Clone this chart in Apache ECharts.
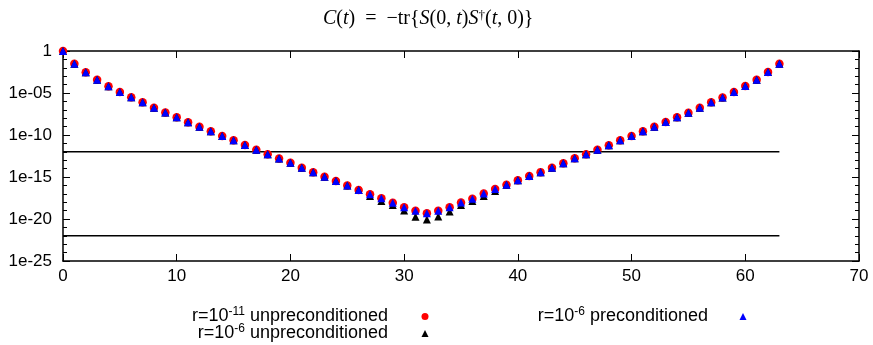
<!DOCTYPE html>
<html><head><meta charset="utf-8">
<script src="https://cdn.jsdelivr.net/npm/echarts@6/dist/echarts.min.js"></script>
<style>html,body{margin:0;padding:0;background:#fff}#c{width:873px;height:345px}</style>
</head><body><div id="c"></div>
<script>
// time slices
const tValues = [0,1,2,3,4,5,6,7,8,9,10,11,12,13,14,15,16,17,18,19,20,21,22,23,24,25,26,27,28,29,30,31,
  32,33,34,35,36,37,38,39,40,41,42,43,44,45,46,47,48,49,50,51,52,53,54,55,56,57,58,59,60,61,62,63];
// r=10^-11 unpreconditioned (red circles)
const cUnprec11 = [1,3.0e-2,3.0e-3,3.7e-4,6.3e-5,1.3e-5,3.2e-6,7.9e-7,1.8e-7,4.7e-8,1.26e-8,3.3e-9,9.3e-10,2.75e-10,7.4e-11,2.4e-11,
  6.3e-12,1.7e-12,5.0e-13,1.6e-13,5.0e-14,1.3e-14,3.6e-15,1.1e-15,3.3e-16,1.0e-16,2.8e-17,8.7e-18,2.9e-18,8.7e-19,2.45e-19,9.8e-20,
  4.7e-20,9.8e-20,2.45e-19,9.5e-19,2.6e-18,1.05e-17,3.7e-17,1.2e-16,4.0e-16,1.3e-15,3.8e-15,1.3e-14,4.3e-14,1.7e-13,5.0e-13,1.8e-12,
  5.9e-12,2.3e-11,7.6e-11,2.75e-10,9.8e-10,3.5e-9,1.26e-8,4.6e-8,1.8e-7,7.8e-7,3.0e-6,1.3e-5,6.8e-5,3.9e-4,3.2e-3,3.1e-2];
// r=10^-6 unpreconditioned (black triangles)
const cUnprec6 = [1,3.0e-2,3.0e-3,3.7e-4,6.3e-5,1.3e-5,3.2e-6,7.9e-7,1.8e-7,4.7e-8,1.26e-8,3.3e-9,9.3e-10,2.75e-10,7.4e-11,2.4e-11,
  6.3e-12,1.7e-12,5.0e-13,1.6e-13,5.0e-14,1.3e-14,3.6e-15,1.1e-15,3.3e-16,1.0e-16,2.8e-17,5.6e-18,1.4e-18,4.5e-19,1.0e-19,1.8e-20,
  8.9e-21,2.0e-20,7.9e-20,4.5e-19,1.4e-18,5.6e-18,2.2e-17,1.2e-16,4.0e-16,1.3e-15,3.8e-15,1.3e-14,4.3e-14,1.7e-13,5.0e-13,1.8e-12,
  5.9e-12,2.3e-11,7.6e-11,2.75e-10,9.8e-10,3.5e-9,1.26e-8,4.6e-8,1.8e-7,7.8e-7,3.0e-6,1.3e-5,6.8e-5,3.9e-4,3.2e-3,3.1e-2];
// r=10^-6 preconditioned (blue triangles)
const cPrec6 = [1,3.0e-2,3.0e-3,3.7e-4,6.3e-5,1.3e-5,3.2e-6,7.9e-7,1.8e-7,4.7e-8,1.26e-8,3.3e-9,9.3e-10,2.75e-10,7.4e-11,2.4e-11,
  6.3e-12,1.7e-12,5.0e-13,1.6e-13,5.0e-14,1.3e-14,3.6e-15,1.1e-15,3.3e-16,1.0e-16,2.8e-17,8.7e-18,2.9e-18,8.7e-19,2.45e-19,9.8e-20,
  4.7e-20,9.8e-20,2.45e-19,9.5e-19,2.6e-18,1.05e-17,3.7e-17,1.2e-16,4.0e-16,1.3e-15,3.8e-15,1.3e-14,4.3e-14,1.7e-13,5.0e-13,1.8e-12,
  5.9e-12,2.3e-11,7.6e-11,2.75e-10,9.8e-10,3.5e-9,1.26e-8,4.6e-8,1.8e-7,7.8e-7,3.0e-6,1.3e-5,6.8e-5,3.9e-4,3.2e-3,3.1e-2];
// horizontal reference levels and their t-span
const refLevels = [1e-12, 1e-22];
const refSpan = [0, 63];
// tick labels
const xTickLabels = ['0','10','20','30','40','50','60','70'];
const yTickLabels = ['1','1e-05','1e-10','1e-15','1e-20','1e-25'];
const seriesNames = ['r=10^-11 unpreconditioned','r=10^-6 unpreconditioned','r=10^-6 preconditioned'];
const legendRich = ['r=10{sup|-11} unpreconditioned','r=10{sup|-6} unpreconditioned','r=10{sup|-6} preconditioned'];

const SANS = 'Liberation Sans';
const SERIF = 'Liberation Serif';
const chart = echarts.init(document.getElementById('c'), null, {renderer:'canvas'});

// the y axis is a decade (log10) axis: values are mapped to exponents for the library's linear scale
const dec = function(v){ return Math.log10(v); };

const frameLine = {show:true, onZero:false, lineStyle:{color:'#000', width:1.5}};
const tickIn = {show:true, inside:true, length:7, lineStyle:{color:'#000', width:1}};
const minorIn = {show:true, splitNumber:5, length:4, lineStyle:{color:'#000', width:1}};

function yLabel(e){
  const k = Math.round(-e);
  if (k % 5 !== 0) return '';
  return yTickLabels[Math.round(k/5)];
}
function xLabel(v){ return xTickLabels[Math.round(v/10)]; }

const legendText = {
  fontFamily:SANS, fontSize:18, color:'#000', lineHeight:21,
  rich:{sup:{fontFamily:SANS, fontSize:12, lineHeight:12, verticalAlign:'top', color:'#000'}}
};
function legendFmt(name){ return legendRich[seriesNames.indexOf(name)]; }

const series = [];
refLevels.forEach(function(lv){
  series.push({type:'line', data: refSpan.map(function(x){return [x, dec(lv)];}), symbol:'none', silent:true,
    lineStyle:{color:'#000', width:1.5}, z:1, animation:false});
});
series.push({name:seriesNames[0], type:'scatter', symbol:'circle', symbolSize:8.5,
  itemStyle:{color:'#ff0000', opacity:1}, data: tValues.map(function(x,i){return [x, dec(cUnprec11[i])];}), z:2, animation:false});
series.push({name:seriesNames[1], type:'scatter', symbol:'triangle', symbolSize:8,
  itemStyle:{color:'#000000', opacity:1}, data: tValues.map(function(x,i){return [x, dec(cUnprec6[i])];}), z:3, animation:false});
series.push({name:seriesNames[2], type:'scatter', symbol:'triangle', symbolSize:8,
  itemStyle:{color:'#0000ff', opacity:1}, data: tValues.map(function(x,i){return [x, dec(cPrec6[i])];}), z:4, animation:false});

const yAxisCommon = {type:'value', min:-25, max:0, interval:5, axisLine:frameLine, axisTick:tickIn,
  minorTick:minorIn, splitLine:{show:false}, minorSplitLine:{show:false}};

chart.setOption({
  animation:false,
  backgroundColor:'#fff',
  title:{
    text:'{i|C}({i|t})  =  −tr{{i|S}(0, {i|t}){i|S}{sup|†}({i|t}, 0)}',
    left:318, top:4,
    textStyle:{fontFamily:SERIF, fontSize:20, fontWeight:'normal', color:'#000',
      rich:{i:{fontFamily:SERIF, fontSize:20, fontStyle:'italic', color:'#000'},
            sup:{fontFamily:SERIF, fontSize:13, verticalAlign:'top', lineHeight:13, color:'#000'}}}
  },
  grid:{left:63, right:14, top:51, bottom:84, containLabel:false},
  legend:[
    {data:[seriesNames[0], seriesNames[1]], orient:'vertical', align:'right', right:444.5, top:306,
     padding:0, itemGap:-4, itemWidth:7, itemHeight:7, selectedMode:false,
     textStyle:Object.assign({padding:[0,28.5,0,0]}, legendText), formatter:legendFmt},
    {data:[seriesNames[2]], orient:'vertical', align:'right', right:126.5, top:306,
     padding:0, itemWidth:7, itemHeight:7, selectedMode:false,
     textStyle:Object.assign({padding:[0,26.5,0,0]}, legendText), formatter:legendFmt}
  ],
  xAxis:[
    {type:'value', position:'bottom', min:0, max:70, interval:10, axisLine:frameLine, axisTick:tickIn,
     axisLabel:{color:'#000', fontFamily:SANS, fontSize:17, margin:7, formatter:xLabel}, splitLine:{show:false}},
    {type:'value', position:'top', min:0, max:70, interval:10, axisLine:frameLine, axisTick:tickIn,
     axisLabel:{show:false}, splitLine:{show:false}}
  ],
  yAxis:[
    Object.assign({position:'left', axisLabel:{color:'#000', fontFamily:SANS, fontSize:17, margin:11, formatter:yLabel}}, yAxisCommon),
    Object.assign({position:'right', axisLabel:{show:false}}, yAxisCommon)
  ],
  series:series
});
</script>
</body></html>
